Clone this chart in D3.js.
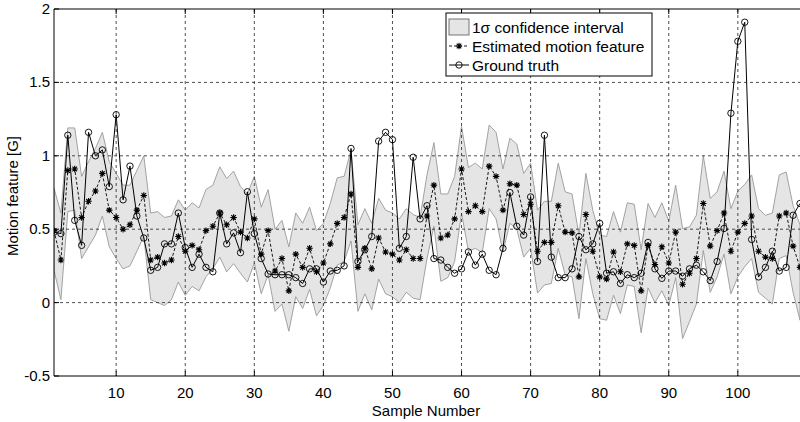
<!doctype html>
<html>
<head>
<meta charset="utf-8">
<script src="https://cdnjs.cloudflare.com/ajax/libs/d3/7.8.5/d3.min.js"></script>
<style>
  body { margin: 0; background: #fff; }
  svg text { font-family: "Liberation Sans", Arial, Helvetica, sans-serif; fill: #000; }
</style>
</head>
<body>
<div id="chart"></div>
<script>
// sample numbers 1..109
var samples = d3.range(1, 110);

var groundTruth = [0.48, 0.47, 1.14, 0.56, 0.39, 1.16, 1.00, 1.04, 0.79, 1.28,
  0.70, 0.93, 0.59, 0.44, 0.22, 0.24, 0.40, 0.40, 0.61, 0.375,
  0.24, 0.33, 0.24, 0.21, 0.61, 0.40, 0.475, 0.34, 0.755, 0.47,
  0.30, 0.195, 0.19, 0.19, 0.19, 0.17, 0.13, 0.23, 0.23, 0.14,
  0.215, 0.22, 0.25, 1.05, 0.28, 0.36, 0.45, 1.10, 1.16, 1.11,
  0.37, 0.45, 0.99, 0.57, 0.66, 0.30, 0.29, 0.24, 0.20, 0.23,
  0.345, 0.255, 0.33, 0.22, 0.19, 0.37, 0.75, 0.52, 0.46, 0.72,
  0.28, 1.14, 0.31, 0.17, 0.17, 0.23, 0.45, 0.36, 0.40, 0.54,
  0.20, 0.21, 0.13, 0.19, 0.17, 0.20, 0.41, 0.23, 0.165, 0.215,
  0.215, 0.18, 0.23, 0.255, 0.21, 0.15, 0.28, 0.505, 1.29, 1.78,
  1.91, 0.43, 0.175, 0.24, 0.35, 0.215, 0.24, 0.595, 0.675];

var estimated = [0.49, 0.29, 0.90, 0.91, 0.58, 0.69, 0.76, 0.88, 0.63, 0.58,
  0.50, 0.53, 0.63, 0.73, 0.29, 0.31, 0.27, 0.29, 0.45, 0.35,
  0.39, 0.36, 0.49, 0.52, 0.61, 0.53, 0.58, 0.48, 0.44, 0.57,
  0.33, 0.49, 0.215, 0.30, 0.08, 0.33, 0.24, 0.37, 0.21, 0.27,
  0.40, 0.54, 0.58, 0.74, 0.24, 0.37, 0.23, 0.44, 0.345, 0.33,
  0.29, 0.36, 0.30, 0.30, 0.59, 0.80, 0.44, 0.46, 0.57, 0.91,
  0.62, 0.66, 0.62, 0.93, 0.86, 0.63, 0.81, 0.80, 0.60, 0.67,
  0.35, 0.41, 0.41, 0.66, 0.48, 0.475, 0.175, 0.60, 0.35, 0.175,
  0.16, 0.345, 0.21, 0.40, 0.39, 0.08, 0.39, 0.26, 0.38, 0.27,
  0.48, 0.125, 0.20, 0.30, 0.675, 0.385, 0.49, 0.61, 0.35, 0.48,
  0.54, 0.59, 0.35, 0.31, 0.30, 0.59, 0.61, 0.385, 0.24];

var upperBound = [0.78, 0.61, 1.19, 1.19, 0.86, 0.96, 1.05, 1.16, 0.96, 0.88,
  0.80, 0.80, 0.90, 1.00, 0.61, 0.62, 0.58, 0.59, 0.70, 0.63,
  0.68, 0.645, 0.77, 0.80, 0.925, 0.845, 0.895, 0.79, 0.74, 0.86,
  0.65, 0.77, 0.50, 0.56, 0.38, 0.61, 0.54, 0.65, 0.49, 0.54,
  0.675, 0.85, 0.86, 1.04, 0.53, 0.64, 0.54, 0.71, 0.63, 0.61,
  0.57, 0.64, 0.60, 0.58, 0.87, 1.09, 0.74, 0.74, 0.86, 1.20,
  0.92, 0.95, 0.91, 1.21, 1.16, 0.91, 1.12, 1.08, 0.88, 0.95,
  0.63, 0.69, 0.69, 0.95, 0.755, 0.74, 0.46, 0.88, 0.63, 0.46,
  0.45, 0.62, 0.48, 0.68, 0.67, 0.36, 0.675, 0.58, 0.68, 0.555,
  0.80, 0.505, 0.515, 0.595, 1.00, 0.71, 0.755, 0.895, 0.64, 0.76,
  0.805, 0.87, 0.64, 0.595, 0.61, 0.87, 0.89, 0.66, 0.53];

var lowerBound = [0.22, 0.02, 0.62, 0.63, 0.30, 0.38, 0.46, 0.59, 0.38, 0.30,
  0.23, 0.25, 0.35, 0.45, 0.02, 0.00, -0.02, 0.02, 0.14, 0.05,
  0.11, 0.08, 0.175, 0.23, 0.31, 0.21, 0.265, 0.20, 0.14, 0.27,
  0.06, 0.19, -0.06, -0.01, -0.195, 0.04, -0.04, 0.09, -0.09, -0.02,
  0.10, 0.255, 0.28, 0.42, -0.06, 0.06, -0.05, 0.16, 0.06, 0.04,
  0.00, 0.07, 0.03, 0.02, 0.30, 0.52, 0.145, 0.17, 0.28, 0.61,
  0.35, 0.37, 0.34, 0.64, 0.57, 0.345, 0.54, 0.50, 0.31, 0.37,
  0.065, 0.12, 0.13, 0.37, 0.19, 0.175, -0.11, 0.30, 0.06, -0.11,
  -0.12, 0.05, -0.075, 0.12, 0.11, -0.205, 0.10, 0.00, 0.08, -0.02,
  0.17, -0.245, -0.13, -0.01, 0.355, 0.07, 0.175, 0.33, 0.06, 0.175,
  0.245, 0.30, 0.07, 0.03, -0.01, 0.30, 0.32, 0.07, -0.12];

var xTicks = [10, 20, 30, 40, 50, 60, 70, 80, 90, 100];
var yTicks = [-0.5, 0, 0.5, 1, 1.5, 2];
var legendLabels = ["1\u03c3 confidence interval", "Estimated motion feature", "Ground truth"];

var w = 800, h = 422;
// plot area (the right border is cut off in the original)
var pL = 54, pT = 9, pR = 800, pB = 376;

var svg = d3.select("#chart").append("svg")
  .attr("width", w)
  .attr("height", h);

var x = d3.scaleLinear().domain([1, 109]).range([pL, pR]);
var y = d3.scaleLinear().domain([-0.5, 2]).range([pB, pT]);

svg.append("clipPath").attr("id", "plot-clip")
  .append("rect")
  .attr("x", pL).attr("y", pT)
  .attr("width", pR - pL).attr("height", pB - pT);

var plot = svg.append("g").attr("clip-path", "url(#plot-clip)");

// confidence band
var area = d3.area()
  .x(function (d, i) { return x(samples[i]); })
  .y0(function (d, i) { return y(lowerBound[i]); })
  .y1(function (d, i) { return y(upperBound[i]); });

plot.append("path")
  .datum(samples)
  .attr("d", area)
  .attr("fill", "#e5e5e5")
  .attr("stroke", "#999")
  .attr("stroke-width", 0.9);

// grid lines, dashed, over the band
plot.selectAll(".gx").data(xTicks).enter().append("line")
  .attr("x1", function (d) { return x(d); }).attr("x2", function (d) { return x(d); })
  .attr("y1", pT).attr("y2", pB)
  .attr("stroke", "#222").attr("stroke-width", 0.8)
  .attr("stroke-dasharray", "3,3");

plot.selectAll(".gy").data(yTicks.slice(1, -1)).enter().append("line")
  .attr("x1", pL).attr("x2", pR)
  .attr("y1", function (d) { return y(d); }).attr("y2", function (d) { return y(d); })
  .attr("stroke", "#222").attr("stroke-width", 0.8)
  .attr("stroke-dasharray", "3,3");

// estimated feature: dashed line + asterisks
var line = d3.line()
  .x(function (d, i) { return x(samples[i]); })
  .y(function (d) { return y(d); });

plot.append("path")
  .datum(estimated)
  .attr("d", line)
  .attr("fill", "none")
  .attr("stroke", "#000")
  .attr("stroke-width", 0.9)
  .attr("stroke-dasharray", "3,2");

var star = "M-3.2,0H3.2M0,-3.2V3.2M-2.3,-2.3L2.3,2.3M-2.3,2.3L2.3,-2.3";

plot.selectAll(".est").data(estimated).enter().append("path")
  .attr("transform", function (d, i) { return "translate(" + x(samples[i]) + "," + y(d) + ")"; })
  .attr("d", star)
  .attr("stroke", "#000")
  .attr("stroke-width", 1.1);

// ground truth: solid line + open circles
plot.append("path")
  .datum(groundTruth)
  .attr("d", line)
  .attr("fill", "none")
  .attr("stroke", "#000")
  .attr("stroke-width", 1);

plot.selectAll(".gt").data(groundTruth).enter().append("circle")
  .attr("cx", function (d, i) { return x(samples[i]); })
  .attr("cy", function (d) { return y(d); })
  .attr("r", 3.2)
  .attr("fill", "none")
  .attr("stroke", "#000")
  .attr("stroke-width", 0.9);

// axes box
svg.append("path")
  .attr("d", "M" + pR + "," + pT + "H" + pL + "V" + pB + "H" + pR)
  .attr("fill", "none")
  .attr("stroke", "#000")
  .attr("stroke-width", 1);

// inward ticks
svg.selectAll(".tb").data(xTicks).enter().append("path")
  .attr("d", function (d) {
    return "M" + x(d) + "," + pB + "v-5M" + x(d) + "," + pT + "v5";
  })
  .attr("stroke", "#000").attr("stroke-width", 1);

svg.selectAll(".tl").data(yTicks).enter().append("path")
  .attr("d", function (d) { return "M" + pL + "," + y(d) + "h5"; })
  .attr("stroke", "#000").attr("stroke-width", 1);

// tick labels
svg.selectAll(".xl").data(xTicks).enter().append("text")
  .attr("x", function (d) { return x(d); })
  .attr("y", 398)
  .attr("text-anchor", "middle")
  .style("font-size", "15px")
  .text(function (d) { return d; });

svg.selectAll(".yl").data(yTicks).enter().append("text")
  .attr("x", 50)
  .attr("y", function (d) { return y(d) + 5; })
  .attr("text-anchor", "end")
  .style("font-size", "15px")
  .text(function (d) { return d; });

// axis titles
svg.append("text")
  .attr("text-anchor", "middle")
  .attr("transform", "translate(426,416)")
  .style("font-size", "15px")
  .text("Sample Number");

svg.append("text")
  .attr("text-anchor", "middle")
  .attr("transform", "translate(18,196)rotate(-90)")
  .style("font-size", "15px")
  .text("Motion feature [G]");

// legend
var lg = svg.append("g");
lg.append("rect")
  .attr("x", 446).attr("y", 13)
  .attr("width", 206).attr("height", 63)
  .attr("fill", "#fff").attr("stroke", "#000").attr("stroke-width", 1);

var rowY = [27, 46, 65];

lg.append("rect")
  .attr("x", 449).attr("y", 19)
  .attr("width", 20).attr("height", 16)
  .attr("fill", "#e5e5e5").attr("stroke", "#666").attr("stroke-width", 0.9);

lg.append("line")
  .attr("x1", 449).attr("x2", 469).attr("y1", rowY[1]).attr("y2", rowY[1])
  .attr("stroke", "#000").attr("stroke-width", 0.9).attr("stroke-dasharray", "3,2");
lg.append("path")
  .attr("transform", "translate(459," + rowY[1] + ")")
  .attr("d", star).attr("stroke", "#000").attr("stroke-width", 1.1);

lg.append("line")
  .attr("x1", 449).attr("x2", 469).attr("y1", rowY[2]).attr("y2", rowY[2])
  .attr("stroke", "#000").attr("stroke-width", 1);
lg.append("circle")
  .attr("cx", 459).attr("cy", rowY[2]).attr("r", 3.2)
  .attr("fill", "none").attr("stroke", "#000").attr("stroke-width", 0.9);

lg.selectAll(".lt").data(legendLabels).enter().append("text")
  .attr("x", 472)
  .attr("y", function (d, i) { return rowY[i] + 5.5; })
  .style("font-size", "15.5px")
  .text(function (d) { return d; });
</script>
</body>
</html>
